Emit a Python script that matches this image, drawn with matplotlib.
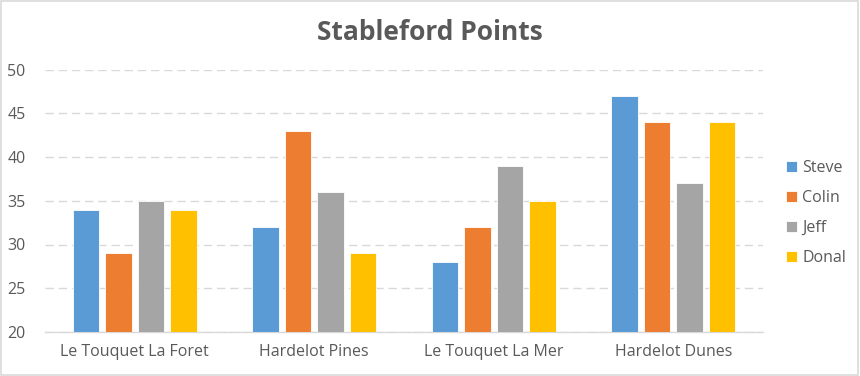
import matplotlib
matplotlib.use("Agg")
import matplotlib.pyplot as plt
import numpy as np
from matplotlib.patches import Rectangle

courses = ["Le Touquet La Foret", "Hardelot Pines", "Le Touquet La Mer", "Hardelot Dunes"]
players = ["Steve", "Colin", "Jeff", "Donal"]
steve = [34, 32, 28, 47]
colin = [29, 43, 32, 44]
jeff = [35, 36, 39, 37]
donal = [34, 29, 35, 44]
yticks = [20, 25, 30, 35, 40, 45, 50]

series = [steve, colin, jeff, donal]
colors = ["#5B9BD5", "#ED7D31", "#A5A5A5", "#FFC000"]

plt.rcParams['font.family'] = ['Open Sans', 'DejaVu Sans']
fig = plt.figure(figsize=(8.6, 3.76), dpi=100)
ax = fig.add_axes([45/860, 1-332/376, (763-45)/860, (332-69.5)/376])

x = np.arange(len(courses))
step = 0.181
width = 0.15
for i, (vals, c, name) in enumerate(zip(series, colors, players)):
    ax.bar(x + (i-1.5)*step, np.array(vals)-20, bottom=20, width=width, color=c,
           edgecolor="white", linewidth=0.6, label=name, zorder=3)

ax.set_xlim(-0.5, len(courses)-0.5)
ax.set_ylim(20, 50)
ax.set_yticks(yticks)
ax.yaxis.grid(True, color="#D9D9D9", linestyle=(0, (6, 3.5)), linewidth=1, zorder=0)
ax.set_xticks(x)
ax.set_xticklabels(courses)
for s in ["top", "right", "left"]:
    ax.spines[s].set_visible(False)
ax.spines["bottom"].set_color("#D9D9D9")
ax.spines["bottom"].set_linewidth(1)
ax.tick_params(axis="both", length=0, labelsize=11.5, colors="#595959")
ax.tick_params(axis="y", pad=14)
ax.tick_params(axis="x", pad=9)

fig.text(0.5, 1-32/376, "Stableford Points", ha="center", va="center",
         fontsize=19, fontweight="bold", color="#595959")

leg = ax.legend(loc="center left", bbox_to_anchor=(772/718 - 45/718, (332-213)/262.5), frameon=False,
                fontsize=11.5, handlelength=0.65, handleheight=0.65, handletextpad=0.35,
                labelspacing=0.88, labelcolor="#595959")

fig.patches.append(Rectangle((0.001, 0.002), 0.997, 0.995, transform=fig.transFigure,
                             fill=False, edgecolor="#D9D9D9", linewidth=1.2))
fig.savefig("out.png", dpi=100)
